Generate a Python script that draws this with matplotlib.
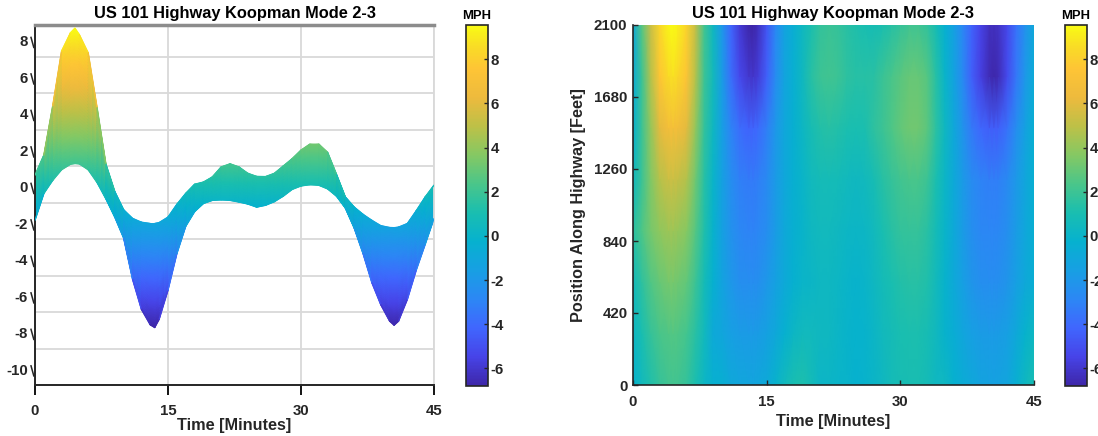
import numpy as np
import matplotlib
matplotlib.use("Agg")
import matplotlib.pyplot as plt
from matplotlib.colors import LinearSegmentedColormap, Normalize
from matplotlib.cm import ScalarMappable
from matplotlib.collections import LineCollection
from matplotlib.transforms import ScaledTranslation, blended_transform_factory

# time axis (minutes, extra samples at the extremes) and sensor positions (feet)
minutes = [0, 1, 2, 3, 4, 4.5, 5, 6, 7, 8, 9,
           10, 11, 12, 13, 13.5, 14, 15, 16, 17, 18, 19,
           20, 21, 22, 23, 24, 25, 26, 27, 28, 29,
           30, 31, 32, 33, 34, 35, 36, 37, 38, 39,
           40, 40.5, 41, 42, 43, 44, 45]
positions = [0, 300, 600, 900, 1200, 1500, 1800, 2100]

# mode 2-3 speed contribution (MPH), one row per position
mph_0 = [-0.2, 0.5, 1.22, 1.8, 2.1, 2.14, 2.12, 1.8, 1.1, 0.2, -0.3,
         -0.4, -0.87, -1.08, -1.15, -1.15, -1.1, -0.8, -0.1, 0.5, 1.0, 1.12,
         0.7, 0.15, 0.12, 0.03, -0.08, -0.25, -0.15, 0.05, 0.35, 0.72,
         0.91, 0.98, 0.95, 0.75, 0.35, 0.3, -0.25, -0.65, -0.98, -1.27,
         -1.37, -1.38, -1.35, -1.15, -0.45, 0.3, 0.95]
mph_300 = [0.2, 1.0, 1.8, 2.3, 2.5, 2.55, 2.5, 2.2, 1.5, 0.5, -0.8,
           -1.1, -1.5, -1.7, -1.8, -1.8, -1.7, -1.4, -0.9, -0.3, 0.2, 0.5,
           0.5, 0.4, 0.3, 0.15, -0.05, -0.2, -0.1, 0.15, 0.5, 0.8,
           1.0, 1.1, 1.1, 0.9, 0.45, -0.1, -0.6, -1.1, -1.5, -1.7,
           -1.8, -1.8, -1.7, -1.5, -0.9, -0.2, 0.3]
mph_600 = [0.6, 1.6, 2.5, 3.0, 3.3, 3.3, 3.2, 2.9, 2.0, 0.8, -0.3,
           -1.3, -2.0, -2.4, -2.5, -2.5, -2.4, -2.0, -1.4, -0.8, -0.3, 0.0,
           0.12, 0.3, 0.3, 0.2, 0.0, -0.1, 0.0, 0.3, 0.7, 1.0,
           1.3, 1.4, 1.4, 1.2, 0.6, -0.1, -0.8, -1.5, -2.1, -2.4,
           -2.5, -2.5, -2.4, -2.1, -1.5, -0.9, -0.5]
mph_900 = [1.5, 2.4, 3.3, 3.9, 4.2, 4.2, 4.1, 3.7, 2.6, 1.2, -0.1,
           -1.4, -2.3, -2.8, -3.0, -3.0, -2.9, -2.5, -1.7, -0.9, -0.4, -0.05,
           0.3, 0.5, 0.5, 0.4, 0.2, 0.1, 0.2, 0.5, 1.0, 1.4,
           1.7, 1.8, 1.8, 1.5, 0.8, 0.0, -0.8, -1.7, -2.4, -2.8,
           -2.9, -2.9, -2.8, -2.4, -1.7, -1.0, -0.4]
mph_1200 = [0.4, 2.0, 3.6, 4.8, 5.3, 5.3, 5.2, 4.7, 3.2, 1.4, 0.0,
            -1.4, -2.5, -3.1, -3.3, -3.3, -3.2, -2.7, -1.8, -1.0, -0.4, 0.0,
            0.5, 0.8, 0.8, 0.7, 0.5, 0.4, 0.5, 0.9, 1.4, 1.8,
            2.1, 2.3, 2.3, 2.0, 1.1, 0.1, -0.8, -1.8, -2.6, -3.0,
            -3.2, -3.2, -3.1, -2.7, -1.9, -1.1, -0.4]
mph_1500 = [-0.3, 2.0, 4.0, 6.0, 6.8, 6.85, 6.7, 6.0, 4.0, 1.7, 0.3,
            -1.5, -3.0, -3.9, -4.3, -4.2, -4.0, -3.2, -2.0, -1.0, -0.4, 0.2,
            0.9, 1.3, 1.4, 1.3, 1.1, 1.0, 1.1, 1.6, 2.0, 2.4,
            2.87, 3.2, 3.2, 2.75, 1.55, 0.3, -0.9, -2.2, -3.4, -4.1,
            -4.5, -4.5, -4.4, -3.7, -2.5, -1.4, -0.4]
mph_1800 = [-0.7, 2.0, 4.8, 7.6, 8.5, 8.7, 8.4, 7.5, 4.8, 2.0, 0.6,
            -1.7, -3.8, -5.3, -6.0, -6.05, -5.8, -4.4, -2.6, -1.2, -0.45, 0.4,
            1.4, 1.95, 2.12, 1.95, 1.6, 1.43, 1.42, 1.5, 1.9, 2.3,
            2.7, 3.0, 3.0, 2.6, 1.4, 0.0, -1.3, -2.7, -4.4, -5.6,
            -6.5, -6.72, -6.5, -5.2, -3.5, -2.0, -0.7]
mph_2100 = [-0.97, 2.6, 5.3, 8.3, 9.3, 9.55, 9.2, 8.2, 5.2, 2.1, 0.4,
            -1.95, -4.2, -5.85, -6.7, -6.85, -6.4, -4.8, -2.8, -1.3, -0.5, 0.3,
            1.1, 1.7, 1.9, 1.8, 1.5, 1.2, 1.0, 0.9, 1.1, 1.4,
            1.8, 2.1, 2.1, 1.7, 0.9, -0.3, -1.4, -2.8, -4.3, -5.5,
            -6.3, -6.35, -6.2, -5.3, -3.7, -2.3, -0.88]

mode = np.array([mph_0, mph_300, mph_600, mph_900,
                 mph_1200, mph_1500, mph_1800, mph_2100])

# parula-like colormap
parula = LinearSegmentedColormap.from_list("parula", [
    (0.00, (0.2422, 0.1504, 0.6603)),
    (0.08, (0.2780, 0.2650, 0.9100)),
    (0.16, (0.2500, 0.4000, 0.9950)),
    (0.24, (0.1700, 0.5300, 0.9600)),
    (0.32, (0.0900, 0.6250, 0.8900)),
    (0.40, (0.0250, 0.6950, 0.8100)),
    (0.48, (0.1000, 0.7450, 0.6900)),
    (0.56, (0.2900, 0.7750, 0.5400)),
    (0.64, (0.5200, 0.7850, 0.3900)),
    (0.72, (0.7400, 0.7550, 0.2800)),
    (0.80, (0.9300, 0.7300, 0.2400)),
    (0.88, (0.9950, 0.7700, 0.2100)),
    (0.94, (0.9750, 0.8600, 0.1500)),
    (1.00, (0.9770, 0.9830, 0.0800)),
])
norm = Normalize(vmin=-6.8, vmax=9.55)

plt.rcParams['font.family'] = ['Liberation Sans', 'DejaVu Sans']
plt.rcParams['font.weight'] = 'bold'
plt.rcParams['axes.unicode_minus'] = False
dark = '#262626'
tick_fs = 10.8

W, H = 1098, 436
fig = plt.figure(figsize=(W / 100, H / 100), dpi=100)

def px_axes(x0, y0, x1, y1):
    return fig.add_axes([x0 / W, (H - y1) / H, (x1 - x0) / W, (y1 - y0) / H])

title = 'US 101 Highway Koopman Mode 2-3'

# ---- left: side view of the mode surface (colour = value)
ax1 = px_axes(35, 25, 434, 385)
ztop = 9.73
upper = mode.max(axis=0)
lower = mode.min(axis=0)
frac = np.linspace(0, 1, 40)[:, None]
Yb = lower + frac * (upper - lower)
Xb = np.broadcast_to(np.array(minutes, dtype=float), Yb.shape)
ax1.pcolormesh(Xb, Yb, Yb, shading='gouraud', cmap=parula, norm=norm, zorder=2)
# soft edges along the envelope
for env in (upper, lower):
    pts = np.column_stack([minutes, env])
    segs = np.stack([pts[:-1], pts[1:]], axis=1)
    lc = LineCollection(segs, colors=parula(norm((env[:-1] + env[1:]) / 2)),
                        linewidths=1.0, zorder=3, capstyle='round')
    ax1.add_collection(lc)
ax1.set_xlim(0, 45)
ax1.set_ylim(-10, ztop)
ax1.set_xticks([0, 15, 30, 45])
yt = list(range(-10, 10, 2))
ax1.set_yticks(yt)
ax1.grid(True, color='#d9d9d9', lw=1.3)
ax1.set_axisbelow(True)
ax1.tick_params(axis='x', direction='out', length=7, width=1.3, pad=7,
                labelsize=tick_fs, colors='black', labelcolor=dark)
ax1.tick_params(axis='y', length=0, pad=5, labelsize=tick_fs, labelcolor=dark)
for lbl in ax1.get_yticklabels():
    lbl.set_transform(lbl.get_transform() + ScaledTranslation(0, 0.16, fig.dpi_scale_trans))
btr = blended_transform_factory(ax1.transAxes, ax1.transData)
for v in yt:
    ax1.plot([-0.010, -0.003], [v + 1.05, v + 0.5], transform=btr,
             color=dark, lw=1.1, clip_on=False)
ax1.spines['top'].set_color('#8c8c8c')
ax1.spines['top'].set_linewidth(2.5)
ax1.spines['right'].set_color('#d9d9d9')
ax1.spines['right'].set_linewidth(1.3)
for s in ('left', 'bottom'):
    ax1.spines[s].set_color(dark)
    ax1.spines[s].set_linewidth(1.4)
ax1.set_title(title, fontsize=11.8, fontweight='bold', pad=5)
ax1.set_xlabel('Time [Minutes]', fontsize=11.7, fontweight='bold', labelpad=0, color=dark)

cax1 = px_axes(466, 25, 488, 386)
cb1 = fig.colorbar(ScalarMappable(norm=norm, cmap=parula), cax=cax1)
cb1.set_ticks([-6, -4, -2, 0, 2, 4, 6, 8])
cax1.tick_params(direction='in', length=3, width=1, pad=2, labelsize=tick_fs,
                 colors=dark)
cb1.outline.set_linewidth(1.2)
cb1.outline.set_edgecolor(dark)
cax1.set_title('MPH', fontsize=9.4, fontweight='bold', pad=4)

# ---- right: space-time map
ax2 = px_axes(633, 25, 1034, 385)
ax2.pcolormesh(minutes, positions, mode, shading='gouraud', cmap=parula, norm=norm)
ax2.set_xlim(0, 45)
ax2.set_ylim(0, 2100)
ax2.set_xticks([0, 15, 30, 45])
ax2.set_yticks([0, 420, 840, 1260, 1680, 2100])
ax2.tick_params(direction='in', length=3.5, width=1, labelsize=tick_fs, colors=dark)
ax2.tick_params(axis='x', pad=7)
ax2.tick_params(axis='y', pad=4)
for s in ('top', 'right'):
    ax2.spines[s].set_visible(False)
for s in ('left', 'bottom'):
    ax2.spines[s].set_color(dark)
    ax2.spines[s].set_linewidth(1.2)
ax2.set_title(title, fontsize=11.8, fontweight='bold', pad=5)
ax2.set_xlabel('Time [Minutes]', fontsize=11.7, fontweight='bold', labelpad=4, color=dark)
ax2.set_ylabel('Position Along Highway [Feet]', fontsize=11.7, fontweight='bold',
               labelpad=6, color=dark)

cax2 = px_axes(1065, 25, 1087, 386)
cb2 = fig.colorbar(ScalarMappable(norm=norm, cmap=parula), cax=cax2)
cb2.set_ticks([-6, -4, -2, 0, 2, 4, 6, 8])
cax2.tick_params(direction='in', length=3, width=1, pad=2, labelsize=tick_fs,
                 colors=dark)
cb2.outline.set_linewidth(1.2)
cb2.outline.set_edgecolor(dark)
cax2.set_title('MPH', fontsize=9.4, fontweight='bold', pad=4)

fig.savefig('out.png', dpi=100)
